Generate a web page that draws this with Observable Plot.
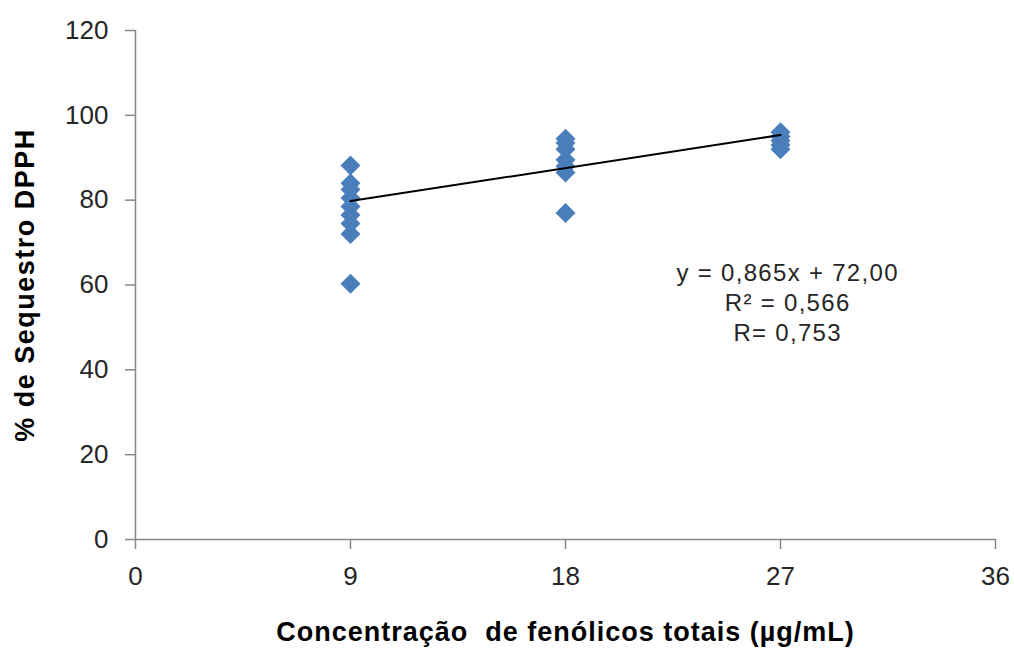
<!DOCTYPE html>
<html>
<head>
<meta charset="utf-8">
<script src="https://cdn.jsdelivr.net/npm/d3@7"></script>
<script src="https://cdn.jsdelivr.net/npm/@observablehq/plot@0.6"></script>
<style>
  body { margin: 0; background: #ffffff; }
  #chart { width: 1014px; height: 648px; overflow: hidden; }
</style>
</head>
<body>
<div id="chart"></div>
<script>
// ---- data ----
const concentrations = [9, 18, 27];
const values9  = [88.2, 84.0, 82.5, 80.5, 78.5, 76.5, 74.5, 72.0, 60.3];
const values18 = [94.5, 93.5, 92.0, 89.5, 88.0, 86.5, 77.0];
const values27 = [96.0, 95.0, 94.0, 93.0, 92.0];
const xTicks = [0, 9, 18, 27, 36];
const yTicks = [0, 20, 40, 60, 80, 100, 120];
const slope = 0.865;
const intercept = 72.00;
const fitRange = [9, 27];
const equationLines = ["y = 0,865x + 72,00", "R² = 0,566", "R= 0,753"];
const equationPos = {x: 27.3, y: 56.2};
const xTitle = "Concentração  de fenólicos totais (µg/mL)";
const yTitle = "% de Sequestro DPPH";

const groups = [values9, values18, values27];
const points = concentrations.flatMap((c, i) => groups[i].map(v => ({x: c, y: v})));
const fit = fitRange.map(x => ({x, y: slope * x + intercept}));

const axisGray = "#868686";
const textColor = "#262626";

const chart = Plot.plot({
  width: 1014,
  height: 648,
  marginLeft: 135,
  marginRight: 19,
  marginTop: 30,
  marginBottom: 109,
  style: {fontFamily: "'Liberation Sans', Arial, sans-serif", background: "#ffffff", overflow: "visible"},
  x: {domain: [0, 36]},
  y: {domain: [0, 120]},
  marks: [
    Plot.ruleX([0], {stroke: axisGray, strokeWidth: 1.5}),
    Plot.ruleY([0], {stroke: axisGray, strokeWidth: 1.5}),
    Plot.axisX({ticks: xTicks, tickSize: 10, tickPadding: 17, fontSize: 26, stroke: axisGray, fill: textColor, strokeWidth: 1.5, label: null}),
    Plot.axisY({ticks: yTicks, tickSize: 10, tickPadding: 17, fontSize: 26, stroke: axisGray, fill: textColor, strokeWidth: 1.5, label: null}),
    Plot.dot(points, {x: "x", y: "y", symbol: "diamond2", r: 9, fill: "#4a7ebb", stroke: "none"}),
    Plot.line(fit, {x: "x", y: "y", stroke: "#000000", strokeWidth: 2}),
    Plot.text([equationLines.join("\n")], {x: () => equationPos.x, y: () => equationPos.y, text: d => d, fontSize: 24, lineHeight: 1.25, fill: textColor, textAnchor: "middle"}),
    Plot.text([xTitle], {frameAnchor: "bottom", textAnchor: "middle", dy: 101, text: d => d, fontSize: 27, fontWeight: "bold", fill: "#000000"}),
    Plot.text([yTitle], {frameAnchor: "left", textAnchor: "middle", dx: -110, rotate: -90, text: d => d, fontSize: 27, fontWeight: "bold", fill: "#000000"})
  ]
});

document.getElementById("chart").appendChild(chart);

d3.select(chart).selectAll("text").each(function () {
  const t = this.textContent;
  if (t.startsWith("Concentra")) d3.select(this).style("letter-spacing", "1px").style("white-space", "pre");
  else if (t.startsWith("%")) d3.select(this).style("letter-spacing", "1.5px");
  else if (t.startsWith("y =")) d3.select(this).style("letter-spacing", "1.3px");
});
</script>
</body>
</html>
